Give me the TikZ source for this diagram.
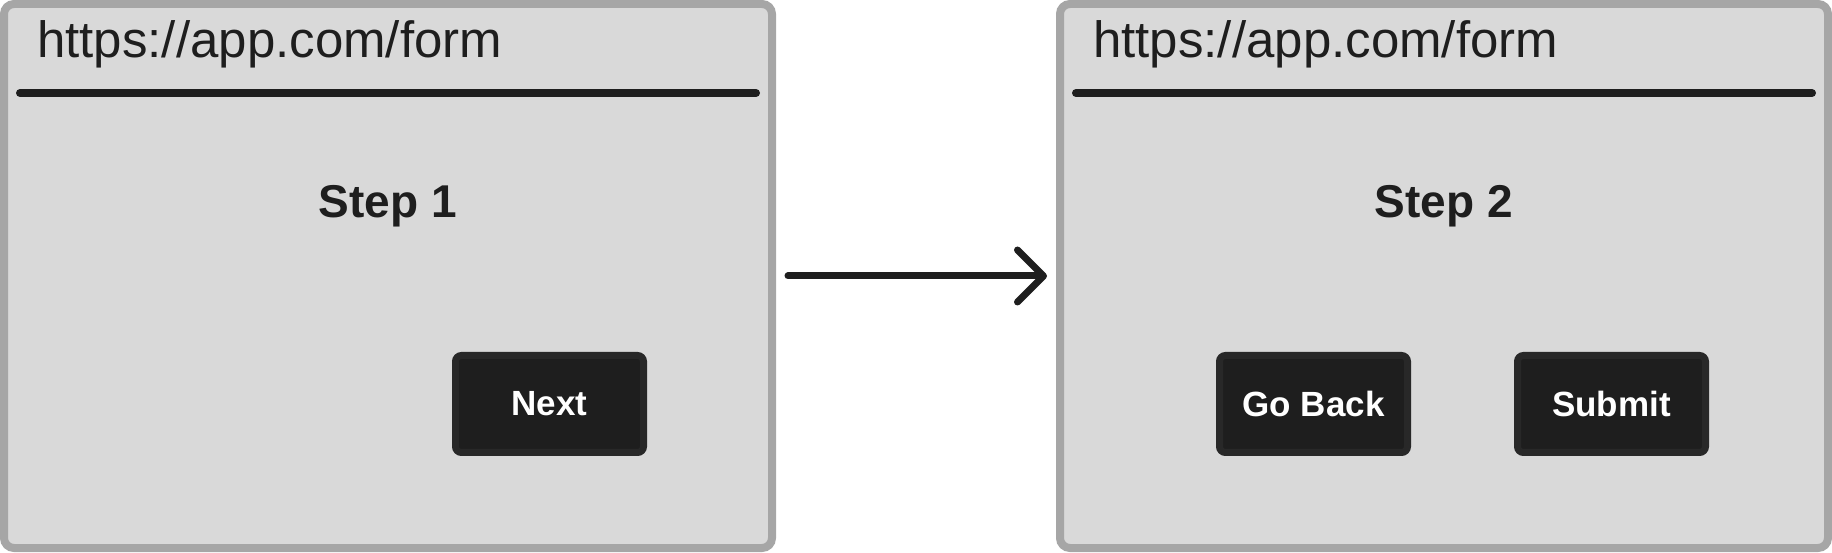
\documentclass[tikz,border=0pt]{standalone}
\usepackage{fontspec}
\setmainfont{Liberation Sans}
\usepackage{tikz}
\usetikzlibrary{arrows.meta}
\usetikzlibrary{calc}
\definecolor{pane}{HTML}{D9D9D9}
\definecolor{rim}{HTML}{A6A6A6}
\definecolor{ink}{HTML}{1E1E1E}
\definecolor{btnrim}{HTML}{282828}

\begin{document}
\begin{tikzpicture}[x=1pt,y=1pt,>={Straight Barb[length=26pt,width=52pt,round]}]
		\tikzstyle{window}=[rectangle,draw=rim,fill=pane,line width=8pt,rounded corners=10pt,
			minimum width=768pt,minimum height=544pt,outer sep=0pt];
		\tikzstyle{url}=[anchor=base west,inner sep=0pt,text=ink,font=\fontsize{51}{60}\selectfont];
		\tikzstyle{title}=[anchor=base,inner sep=0pt,text=ink,font=\fontsize{46}{55}\selectfont\bfseries];
		\tikzstyle{bar}=[draw=ink,line width=8pt,line cap=round];
		\tikzstyle{button}=[rectangle,draw=btnrim,fill=ink,line width=7pt,rounded corners=6pt,
			minimum width=188pt,minimum height=97pt,text=white,font=\fontsize{35}{42}\selectfont\bfseries];
		\useasboundingbox(0,0)rectangle(1832,552);

		\node[window](w1)at(388,276){};
		\node[url](u1)at($(w1.north west)+(33,-54)$){https://app.com/form};
		\draw[bar]($(w1.north west)+(16,-89)$)--($(w1.north east)+(-16,-89)$);
		\node[title](t1)at($(w1.north)+(0,-214)$){Step 1};
		\node[button](next)at($(w1.center)+(161.5,-128)$){Next};

		\node[window](w2)at(1444,276){};
		\node[url](u2)at($(w2.north west)+(33,-54)$){https://app.com/form};
		\draw[bar]($(w2.north west)+(16,-89)$)--($(w2.north east)+(-16,-89)$);
		\node[title](t2)at($(w2.north)+(0,-214)$){Step 2};
		\node[button](back)at($(w2.center)+(-130.5,-128)$){Go Back};
		\node[button](submit)at($(w2.center)+(167.5,-128)$){Submit};

		\draw[->,draw=ink,line width=7pt,line cap=round,shorten <=16pt,shorten >=13pt](w1.east)--(w2.west);
	\end{tikzpicture}
\end{document}
